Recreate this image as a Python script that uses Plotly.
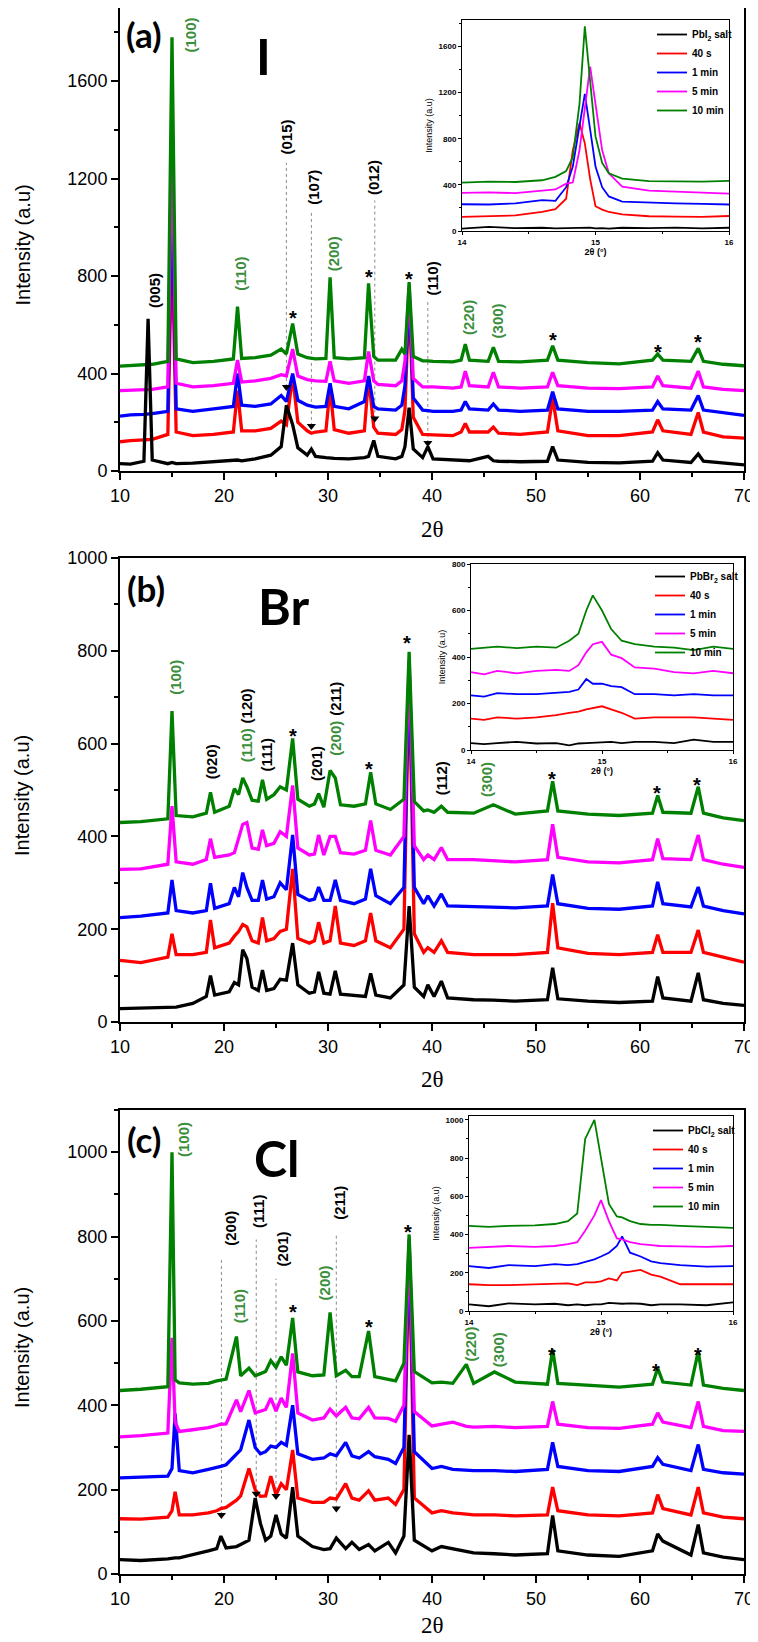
import plotly.graph_objects as go

# ======================= DATA =======================
# ---- panel (a) : I ----
a_x = [10, 11, 12.3, 12.7, 13.1, 14.6, 15.0, 15.4, 17, 19,
       20.9, 21.3, 21.7, 23, 24.5, 25.5, 26.0, 26.6, 27.1, 28.0,
       28.4, 28.8, 29.8, 30.2, 30.6, 32, 33.5, 33.9, 34.4, 34.8,
       36.5, 37.1, 37.4, 37.8, 38.2, 39.1, 39.6, 40.1, 42, 42.8,
       43.2, 43.6, 45.4, 45.9, 46.4, 48.5, 51.1, 51.6, 52.1, 55,
       58, 61.2, 61.7, 62.2, 64.9, 65.6, 66.1, 68, 70]
a_black = [30, 28, 40, 625, 45, 30, 35, 30, 32, 38,
           42, 45, 42, 50, 65, 100, 270, 190, 95, 65,
           90, 60, 55, 55, 52, 50, 55, 60, 125, 60,
           50, 60, 100, 260, 90, 55, 100, 50, 45, 42,
           40, 42, 60, 42, 40, 38, 40, 100, 45, 35,
           33, 40, 75, 45, 35, 70, 40, 32, 25]
a_red = [120, 125, 128, 130, 130, 150, 940, 160, 145, 150,
         160, 330, 165, 165, 175, 205, 190, 390, 200, 165,
         155, 160, 165, 340, 170, 155, 165, 385, 180, 155,
         150, 170, 250, 720, 220, 150, 150, 148, 145, 160,
         195, 160, 160, 180, 155, 150, 160, 300, 165, 145,
         145, 160, 210, 165, 150, 240, 160, 140, 135]
a_blue = [225, 230, 232, 232, 235, 245, 1180, 255, 245, 255,
          265, 400, 270, 265, 275, 310, 285, 400, 290, 270,
          265, 262, 265, 360, 265, 255, 285, 390, 265, 255,
          250, 270, 350, 740, 300, 250, 248, 245, 245, 250,
          285, 255, 250, 275, 250, 245, 250, 325, 255, 245,
          245, 250, 285, 255, 250, 310, 250, 240, 228]
a_mag = [330, 332, 335, 335, 335, 345, 1420, 360, 345, 350,
         360, 455, 365, 370, 380, 395, 390, 500, 390, 375,
         372, 370, 368, 450, 370, 360, 370, 490, 370, 355,
         350, 370, 450, 760, 380, 345, 345, 345, 340, 345,
         410, 350, 345, 405, 345, 340, 345, 405, 350, 340,
         338, 345, 390, 350, 340, 410, 345, 335, 330]
a_green = [430, 432, 435, 435, 438, 450, 1780, 460, 445, 450,
           460, 675, 462, 465, 475, 500, 480, 605, 480, 465,
           462, 460, 462, 795, 465, 460, 465, 770, 470, 455,
           455, 500, 480, 775, 470, 452, 452, 450, 448, 455,
           520, 455, 450, 507, 450, 448, 455, 514, 455, 445,
           440, 455, 480, 455, 450, 503, 450, 438, 432]

# ---- panel (b) : Br ----
b_x = [10, 12, 14.6, 15.0, 15.4, 17, 18.3, 18.7, 19.1, 20.5,
       21.0, 21.4, 21.8, 22.2, 22.7, 23.3, 23.7, 24.1, 24.8, 25.4,
       26.0, 26.6, 27.1, 28.2, 28.7, 29.1, 29.6, 30.2, 30.7, 31.2,
       32.5, 33.6, 34.1, 34.6, 36, 37.3, 37.8, 38.3, 39.2, 39.6,
       40.2, 40.9, 41.5, 44, 45.9, 48, 51.1, 51.6, 52.1, 55,
       58, 61.2, 61.7, 62.2, 64.9, 65.6, 66.1, 68, 70]
b_black = [29, 30, 32, 33, 32, 40, 55, 100, 58, 65,
           85, 80, 156, 137, 75, 68, 112, 68, 72, 92,
           90, 170, 80, 62, 65, 108, 62, 60, 110, 60,
           58, 55, 105, 58, 52, 80, 250, 75, 55, 80,
           55, 88, 52, 48, 47, 45, 48, 117, 50, 45,
           42, 45, 98, 52, 45, 106, 48, 40, 36]
b_red = [133, 128, 140, 190, 145, 145, 150, 220, 160, 170,
         185, 195, 210, 205, 175, 170, 225, 175, 180, 195,
         200, 330, 180, 170, 175, 215, 170, 175, 250, 170,
         165, 175, 235, 175, 160, 200, 760, 190, 150, 160,
         150, 175, 150, 145, 145, 145, 150, 256, 160, 148,
         145, 150, 188, 150, 150, 198, 150, 140, 129]
b_blue = [225, 228, 235, 306, 240, 235, 240, 299, 245, 255,
          290, 270, 322, 290, 262, 262, 306, 265, 270, 300,
          285, 403, 275, 262, 265, 291, 262, 262, 306, 262,
          255, 265, 330, 272, 255, 290, 770, 290, 255, 272,
          250, 276, 250, 248, 248, 246, 250, 318, 255, 245,
          243, 250, 302, 255, 248, 291, 250, 240, 233]
b_mag = [329, 330, 340, 465, 345, 340, 350, 395, 355, 360,
         365, 395, 426, 430, 375, 372, 414, 380, 385, 410,
         400, 510, 375, 360, 362, 403, 360, 400, 400, 365,
         362, 370, 434, 370, 360, 400, 780, 380, 350, 360,
         350, 376, 350, 350, 348, 345, 350, 426, 355, 345,
         343, 350, 395, 352, 350, 403, 350, 340, 333]
b_green = [430, 432, 438, 670, 445, 442, 450, 495, 452, 465,
           503, 490, 526, 507, 478, 476, 522, 480, 490, 507,
           500, 611, 480, 465, 470, 492, 463, 542, 526, 468,
           465, 470, 538, 470, 458, 480, 798, 475, 455, 457,
           452, 465, 452, 450, 468, 448, 455, 519, 455, 448,
           445, 450, 488, 452, 450, 507, 450, 440, 434]

# ---- panel (c) : Cl ----
c_x = [10, 12, 14.6, 15.0, 15.3, 15.7, 17, 18.5, 19.3, 19.7,
       20.2, 21.2, 21.6, 22.4, 23.0, 23.5, 24.0, 24.5, 25.0, 25.5,
       26.0, 26.6, 27.1, 28.5, 29.6, 30.2, 30.8, 31.7, 32.3, 33.0,
       33.9, 34.5, 35.8, 36.5, 37.3, 37.8, 38.3, 40, 40.9, 42,
       43.3, 44, 46.0, 48, 51.1, 51.6, 52.1, 55, 58, 61.2,
       61.7, 62.2, 64.9, 65.6, 66.1, 68, 70]
c_black = [34, 32, 36, 38, 38, 38, 45, 55, 60, 90,
           62, 65, 70, 80, 180, 120, 80, 90, 140, 95,
           85, 206, 90, 65, 58, 60, 85, 60, 75, 58,
           70, 55, 75, 50, 90, 330, 80, 55, 65, 60,
           55, 50, 48, 45, 48, 139, 55, 45, 42, 55,
           95, 78, 45, 117, 50, 40, 34]
c_red = [131, 130, 135, 150, 195, 140, 140, 145, 150, 155,
         158, 175, 185, 250, 200, 184, 185, 232, 188, 214,
         200, 294, 180, 170, 170, 180, 178, 214, 180, 175,
         197, 175, 180, 165, 200, 780, 180, 145, 150, 145,
         142, 140, 140, 138, 140, 206, 150, 140, 138, 145,
         188, 155, 140, 206, 145, 135, 131]
c_blue = [228, 230, 232, 250, 380, 245, 240, 248, 252, 255,
          259, 285, 294, 365, 300, 285, 290, 303, 300, 312,
          305, 400, 285, 272, 275, 285, 280, 312, 280, 275,
          290, 278, 272, 262, 300, 790, 290, 250, 255, 248,
          245, 245, 245, 243, 248, 312, 255, 245, 243, 255,
          276, 260, 245, 307, 248, 240, 237]
c_mag = [325, 328, 334, 560, 360, 338, 342, 347, 352, 355,
         356, 413, 385, 435, 382, 385, 390, 417, 386, 417,
         395, 523, 382, 365, 370, 391, 375, 395, 370, 368,
         395, 370, 369, 362, 400, 795, 385, 351, 355, 360,
         350, 348, 350, 347, 350, 409, 355, 347, 345, 355,
         382, 360, 347, 409, 350, 340, 338]
c_green = [435, 438, 444, 1000, 460, 453, 450, 452, 458, 460,
           462, 563, 470, 488, 470, 475, 480, 506, 490, 515,
           495, 607, 479, 470, 472, 620, 470, 483, 468, 468,
           576, 468, 462, 458, 500, 805, 480, 453, 455, 452,
           497, 452, 479, 455, 450, 532, 452, 447, 443, 450,
           488, 455, 448, 528, 448, 440, 435]

# ---- insets (zoom on the (100) reflection) ----
ia_x = [14, 14.2, 14.4, 14.6, 14.7, 14.78, 14.83, 14.88, 14.92, 14.96,
        15.0, 15.05, 15.1, 15.2, 15.4, 15.6, 15.8, 16]
ia_black = [20, 35, 25, 28, 22, 25, 28, 25, 26, 30, 22, 25, 20, 28, 25, 30, 22, 28]
ia_red = [122, 130, 135, 165, 190, 280, 700, 935, 760, 450, 215, 185, 165, 145, 128, 125, 122, 130]
ia_blue = [232, 230, 240, 268, 262, 380, 560, 900, 1190, 880, 560, 380, 300, 255, 245, 240, 235, 230]
ia_mag = [330, 335, 328, 345, 360, 410, 420, 700, 1080, 1425, 1100, 700, 500, 385, 350, 340, 330, 325]
ia_green = [420, 428, 425, 440, 470, 520, 640, 1100, 1775, 1300, 820, 590, 500, 455, 432, 430, 428, 435]

ib_x = [14, 14.1, 14.2, 14.35, 14.5, 14.65, 14.75, 14.82, 14.88, 14.93,
        15.0, 15.07, 15.15, 15.25, 15.4, 15.55, 15.7, 15.85, 16]
ib_black = [30, 25, 30, 35, 28, 30, 20, 28, 30, 32, 35, 35, 30, 35, 35, 30, 45, 35, 35]
ib_red = [135, 130, 140, 135, 140, 150, 160, 165, 175, 180, 188, 175, 160, 135, 140, 140, 140, 135, 130]
ib_blue = [235, 230, 245, 240, 240, 245, 250, 260, 305, 285, 285, 275, 270, 240, 240, 235, 240, 235, 235]
ib_mag = [335, 325, 340, 330, 340, 345, 340, 365, 420, 455, 465, 410, 395, 355, 350, 335, 330, 340, 330]
ib_green = [435, 440, 445, 438, 445, 440, 470, 500, 600, 665, 600, 520, 470, 455, 445, 440, 430, 445, 435]

ic_x = [14, 14.15, 14.3, 14.5, 14.65, 14.75, 14.82, 14.88, 14.95, 15.0,
        15.06, 15.12, 15.16, 15.22, 15.3, 15.38, 15.45, 15.6, 15.8, 16]
ic_black = [35, 25, 40, 35, 38, 30, 35, 30, 35, 35, 42, 40, 38, 40, 38, 30, 35, 35, 30, 45]
ic_red = [140, 135, 135, 140, 140, 145, 135, 150, 150, 155, 170, 160, 200, 205, 215, 190, 180, 140, 140, 140]
ic_blue = [235, 225, 240, 235, 245, 240, 245, 255, 270, 285, 305, 340, 390, 305, 285, 260, 250, 240, 232, 235]
ic_mag = [330, 335, 340, 335, 340, 350, 360, 420, 500, 580, 470, 380, 375, 360, 350, 345, 340, 338, 335, 340]
ic_green = [445, 440, 445, 448, 455, 470, 510, 900, 1000, 800, 560, 495, 490, 470, 455, 450, 450, 445, 440, 435]

series_times = ["40 s", "1 min", "5 min", "10 min"]
salt_names = ["PbI<sub>2</sub> salt", "PbBr<sub>2</sub> salt", "PbCl<sub>2</sub> salt"]

# ---- peak labels ----
a_lab_text = ["(005)", "(100)", "(110)", "(015)", "(107)", "(200)", "(012)", "(110)", "(220)", "(300)"]
a_lab_x = [13.3, 16.8, 21.5, 26.0, 28.6, 30.5, 34.4, 40.0, 43.5, 46.3]
a_lab_y = [740, 1790, 808, 1370, 1164, 890, 1205, 790, 630, 616]
a_lab_g = [0, 1, 1, 0, 0, 1, 0, 0, 1, 1]
a_star_x = [26.6, 33.9, 37.8, 51.6, 61.7, 65.6]
a_star_y = [650, 815, 810, 560, 510, 550]
a_drop_x = [26.0, 28.4, 34.5, 39.6]
a_drop_lo = [345, 185, 215, 115]
a_drop_hi = [1265, 1065, 1110, 700]

b_lab_text = ["(100)", "(020)", "(110)", "(120)", "(111)", "(201)", "(200)", "(211)", "(112)", "(300)"]
b_lab_x = [15.4, 18.8, 22.2, 22.2, 24.1, 28.9, 30.7, 30.7, 41.0, 45.3]
b_lab_y = [742, 561, 596, 682, 576, 557, 611, 697, 526, 522]
b_lab_g = [1, 0, 1, 0, 0, 0, 1, 0, 0, 1]
b_star_x = [26.6, 33.9, 37.6, 51.5, 61.6, 65.5]
b_star_y = [627, 556, 827, 535, 505, 522]

c_lab_text = ["(100)", "(200)", "(111)", "(201)", "(110)", "(200)", "(211)", "(220)", "(300)"]
c_lab_x = [16.1, 20.6, 23.3, 25.6, 21.5, 29.7, 31.1, 43.7, 46.4]
c_lab_y = [1030, 819, 859, 770, 634, 691, 881, 545, 532]
c_lab_g = [1, 0, 0, 0, 1, 1, 0, 1, 1]
c_star_x = [26.6, 33.9, 37.7, 51.5, 61.5, 65.6]
c_star_y = [634, 598, 823, 532, 492, 532]
c_drop_x = [19.75, 23.1, 25.0, 30.8]
c_drop_lo = [140, 190, 185, 155]
c_drop_hi = [748, 793, 700, 806]

# ======================= FIGURE =======================
# the page body keeps an 8 px margin, so the figure is 8 px smaller on each
# axis and every position below (given in window pixels) is shifted by 8 px
OFF = 8
W, H = 758 - OFF, 1642 - OFF
def fx(p): return min(1.0, max(0.0, (p - OFF) / W))
def fy(p): return min(1.0, max(0.0, 1 - (p - OFF) / H))

COL = ["#000000", "#ff0000", "#0000ff", "#ff00ff", "#008000"]
LBL_GREEN = "#3b8e3b"
SANS = "Liberation Sans, Arial, sans-serif"
CTR = dict(xanchor="center", yanchor="middle", showarrow=False)

fig = go.Figure()

panels = [
    dict(n="", x=a_x, ys=[a_black, a_red, a_blue, a_mag, a_green], top=8, bot=471,
         yr=[0, 1900], dt=400, mt=200, letter="(a)", elem="I", xlab_y=529,
         letter_xy=(12.35, 1795), elem_xy=(23.8, 1705),
         lt=a_lab_text, lx=a_lab_x, ly=a_lab_y, lg=a_lab_g, sx=a_star_x, sy=a_star_y,
         dx=a_drop_x, dlo=a_drop_lo, dhi=a_drop_hi),
    dict(n="2", x=b_x, ys=[b_black, b_red, b_blue, b_mag, b_green], top=558, bot=1022,
         yr=[0, 1000], dt=200, mt=100, letter="(b)", elem="Br", xlab_y=1079,
         letter_xy=(12.5, 935), elem_xy=(25.7, 897),
         lt=b_lab_text, lx=b_lab_x, ly=b_lab_y, lg=b_lab_g, sx=b_star_x, sy=b_star_y,
         dx=[], dlo=[], dhi=[]),
    dict(n="3", x=c_x, ys=[c_black, c_red, c_blue, c_mag, c_green], top=1110, bot=1574,
         yr=[0, 1100], dt=200, mt=100, letter="(c)", elem="Cl", xlab_y=1625,
         letter_xy=(12.3, 1031), elem_xy=(25.1, 987),
         lt=c_lab_text, lx=c_lab_x, ly=c_lab_y, lg=c_lab_g, sx=c_star_x, sy=c_star_y,
         dx=c_drop_x, dlo=c_drop_lo, dhi=c_drop_hi),
]

annotations = []
layout_axes = {}

for p in panels:
    xa, ya = "x" + p["n"], "y" + p["n"]
    if p["dx"]:
        gx, gy = [], []
        for xv, lo, hi in zip(p["dx"], p["dlo"], p["dhi"]):
            gx += [xv, xv, None]
            gy += [lo, hi, None]
        fig.add_trace(go.Scatter(x=gx, y=gy, mode="lines", xaxis=xa, yaxis=ya,
                                 line=dict(color="#8a8a8a", width=1, dash="dot"),
                                 showlegend=False, hoverinfo="skip"))
    for i in [1, 2, 3, 4, 0]:
        fig.add_trace(go.Scatter(x=p["x"], y=p["ys"][i], mode="lines", xaxis=xa, yaxis=ya,
                                 line=dict(color=COL[i], width=3.3), showlegend=False))
    if p["dx"]:
        fig.add_trace(go.Scatter(x=p["dx"], y=p["dlo"], mode="markers", xaxis=xa, yaxis=ya,
                                 marker=dict(symbol="triangle-down", size=8, color="black"),
                                 showlegend=False))
    for t, xv, yv, g in zip(p["lt"], p["lx"], p["ly"], p["lg"]):
        annotations.append(dict(x=xv, y=yv, xref=xa, yref=ya, text="<b>" + t + "</b>",
                                textangle=-90, **CTR,
                                font=dict(family=SANS, size=15, color=LBL_GREEN if g else "black")))
    for xv, yv in zip(p["sx"], p["sy"]):
        annotations.append(dict(x=xv, y=yv, xref=xa, yref=ya, text="<b>*</b>", **CTR,
                                yshift=-5, font=dict(family=SANS, size=20, color="black")))
    annotations.append(dict(x=p["letter_xy"][0], y=p["letter_xy"][1], xref=xa, yref=ya,
                            text="<b>" + p["letter"] + "</b>", **CTR,
                            font=dict(family="Lato, Open Sans, sans-serif", size=35, color="black")))
    annotations.append(dict(x=p["elem_xy"][0], y=p["elem_xy"][1], xref=xa, yref=ya,
                            text="<b>" + p["elem"] + "</b>", **CTR,
                            font=dict(family="Lato, Open Sans, sans-serif", size=50, color="black")))
    annotations.append(dict(x=fx(22), y=fy((p["top"] + p["bot"]) / 2 + 6), xref="paper", yref="paper",
                            text="Intensity (a.u)", textangle=-90, **CTR,
                            font=dict(family=SANS, size=20, color="black")))
    annotations.append(dict(x=fx(432), y=fy(p["xlab_y"]), xref="paper", yref="paper",
                            text="2θ", **CTR,
                            font=dict(family="Liberation Serif, Times New Roman, serif", size=23, color="black")))
    layout_axes["xaxis" + p["n"]] = dict(
        domain=[fx(120), fx(744)], anchor=ya, range=[10, 70], tick0=10, dtick=10,
        ticks="outside", ticklen=7, tickwidth=2, tickcolor="black",
        minor=dict(ticks="outside", ticklen=4, tickwidth=1.5, dtick=5, tick0=10,
                   tickcolor="black", showgrid=False),
        showline=True, linewidth=2, linecolor="black", mirror=True,
        showgrid=False, zeroline=False, automargin=False,
        tickfont=dict(family=SANS, size=18, color="black"))
    layout_axes["yaxis" + p["n"]] = dict(
        domain=[fy(p["bot"]), fy(p["top"])], anchor=xa, range=p["yr"],
        tick0=0, dtick=p["dt"],
        ticks="outside", ticklen=7, tickwidth=2, tickcolor="black",
        minor=dict(ticks="outside", ticklen=4, tickwidth=1.5, dtick=p["mt"],
                   tickcolor="black", showgrid=False),
        showline=True, linewidth=2, linecolor="black", mirror=True,
        showgrid=False, zeroline=False, automargin=False,
        tickfont=dict(family=SANS, size=18, color="black"))

# ---------------- insets ----------------
insets = [
    dict(n="4", x=ia_x, ys=[ia_black, ia_red, ia_blue, ia_mag, ia_green], left=462, right=729,
         top=20, bot=231, yr=[0, 1830], dt=400, mt=200, legend="legend", salt=salt_names[0],
         leg_xy=(652, 20)),
    dict(n="5", x=ib_x, ys=[ib_black, ib_red, ib_blue, ib_mag, ib_green], left=471, right=733,
         top=564, bot=750, yr=[0, 800], dt=200, mt=100, legend="legend2", salt=salt_names[1],
         leg_xy=(650, 562)),
    dict(n="6", x=ic_x, ys=[ic_black, ic_red, ic_blue, ic_mag, ic_green], left=469, right=733,
         top=1116, bot=1311, yr=[0, 1020], dt=200, mt=100, legend="legend3", salt=salt_names[2],
         leg_xy=(648, 1116)),
]

legends = {}
for q in insets:
    xa, ya = "x" + q["n"], "y" + q["n"]
    names = [q["salt"]] + series_times
    for i in range(5):
        fig.add_trace(go.Scatter(x=q["x"], y=q["ys"][i], mode="lines", xaxis=xa, yaxis=ya,
                                 name=names[i], legend=q["legend"],
                                 line=dict(color=COL[i], width=1.8)))
    layout_axes["xaxis" + q["n"]] = dict(
        domain=[fx(q["left"]), fx(q["right"])], anchor=ya, range=[14, 16], tick0=14, dtick=1,
        ticks="outside", ticklen=3, tickwidth=1, tickcolor="black",
        minor=dict(ticks="outside", ticklen=2, dtick=0.5, tick0=14, tickcolor="black", showgrid=False),
        showline=True, linewidth=1, linecolor="black", mirror=True, showgrid=False, zeroline=False,
        automargin=False,
        tickfont=dict(family=SANS, size=8, color="black", weight="bold"),
        title=dict(text="2θ (°)", standoff=3, font=dict(family=SANS, size=9, color="black", weight="bold")))
    layout_axes["yaxis" + q["n"]] = dict(
        domain=[fy(q["bot"]), fy(q["top"])], anchor=xa, range=q["yr"], tick0=0, dtick=q["dt"],
        ticks="outside", ticklen=3, tickwidth=1, tickcolor="black",
        minor=dict(ticks="outside", ticklen=2, dtick=q["mt"], tickcolor="black", showgrid=False),
        showline=True, linewidth=1, linecolor="black", mirror=True, showgrid=False, zeroline=False,
        automargin=False,
        tickfont=dict(family=SANS, size=8, color="black", weight="bold"),
        title=dict(text="Intensity (a.u)", standoff=4, font=dict(family=SANS, size=9, color="black")))
    legends[q["legend"]] = dict(x=fx(q["leg_xy"][0]), y=fy(q["leg_xy"][1]), xanchor="left", yanchor="top",
                                bgcolor="rgba(0,0,0,0)", borderwidth=0, itemwidth=30,
                                tracegroupgap=0,
                                font=dict(family=SANS, size=10, color="black", weight="bold"))

fig.update_layout(
    width=W, height=H,
    margin=dict(l=0, r=0, t=0, b=0),
    paper_bgcolor="white", plot_bgcolor="white",
    showlegend=True,
    annotations=annotations,
    **layout_axes,
    **legends,
)

fig.write_html("out.html")
